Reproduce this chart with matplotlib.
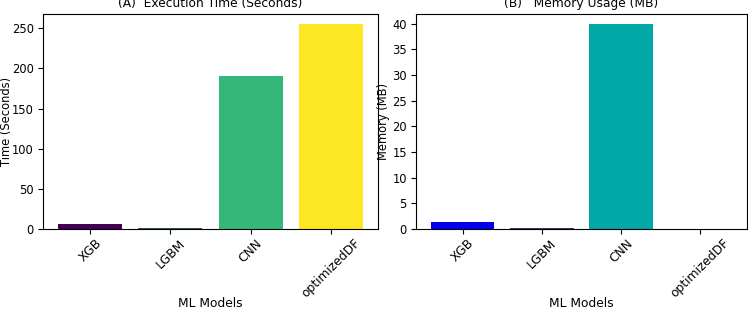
import matplotlib
matplotlib.use("Agg")
import matplotlib.pyplot as plt
from matplotlib.ticker import MultipleLocator

models = ["XGB", "LGBM", "CNN", "optimizedDF"]
exec_time = [6.5, 1.5, 190, 255]
memory_mb = [1.3, 0.2, 39.9, 0.05]
colors_a = ["#440154", "#33565f", "#35b779", "#fde725"]
colors_b = ["#0000ee", "#363c6a", "#00a8a8", "#2a2a50"]

fs = 8.8
yfs = 8.3
fig = plt.figure(figsize=(7.48, 3.09), dpi=100)
ax1 = fig.add_axes([43/748, 80/309, 335/748, 215/309])
ax2 = fig.add_axes([416/748, 80/309, 331/748, 215/309])

ax1.bar(models, exec_time, color=colors_a)
ax1.set_title("(A)  Execution Time (Seconds)", fontsize=fs, pad=5)
ax1.set_ylabel("Time (Seconds)", fontsize=yfs)
ax1.set_xlabel("ML Models", fontsize=fs)
ax1.tick_params(axis="x", labelrotation=45, labelsize=fs, pad=2)
ax1.tick_params(axis="y", labelsize=yfs, pad=3)
ax1.yaxis.set_label_coords(-0.090, 0.5)
ax1.xaxis.set_label_coords(0.5, -0.318)

ax2.bar(models, memory_mb, color=colors_b)
ax2.yaxis.set_major_locator(MultipleLocator(5))
ax2.set_title("(B)   Memory Usage (MB)", fontsize=fs, pad=5)
ax2.set_ylabel("Memory (MB)", fontsize=yfs)
ax2.set_xlabel("ML Models", fontsize=fs)
ax2.tick_params(axis="x", labelrotation=45, labelsize=fs, pad=2)
ax2.tick_params(axis="y", labelsize=yfs, pad=3)
ax2.yaxis.set_label_coords(-0.078, 0.5)
ax2.xaxis.set_label_coords(0.5, -0.318)

fig.savefig("out.png", dpi=100)
